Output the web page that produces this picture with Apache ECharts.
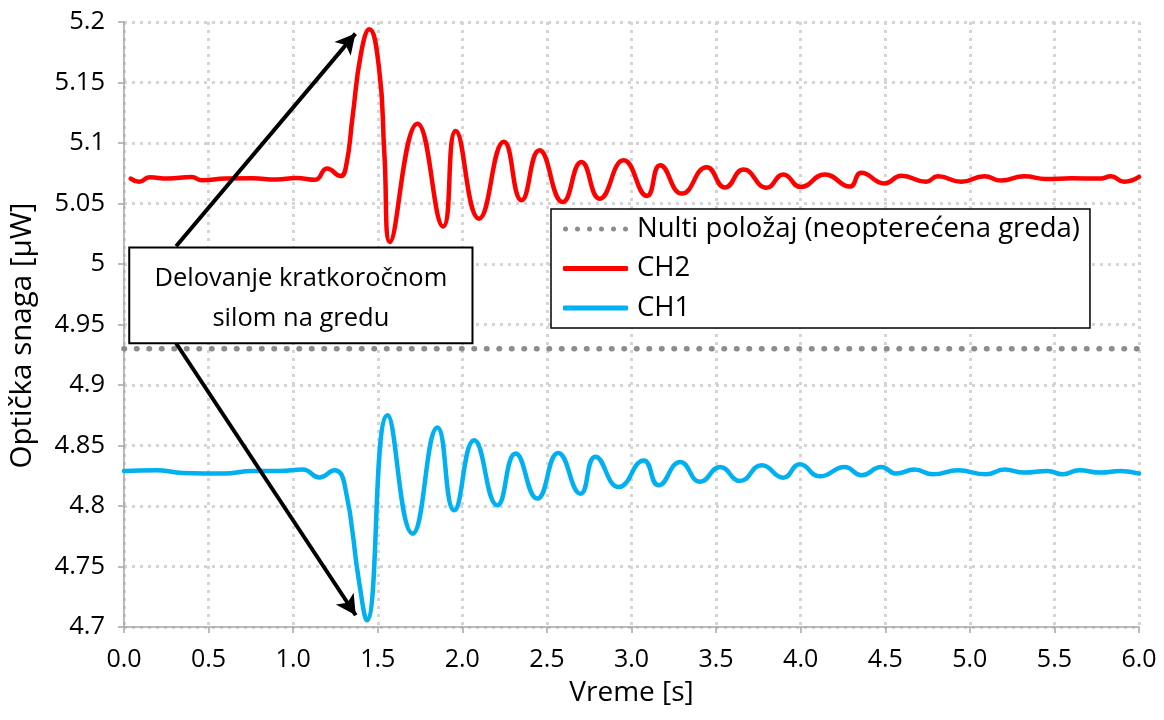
<!DOCTYPE html>
<html>
<head>
<meta charset="utf-8">
<script src="https://cdn.jsdelivr.net/npm/echarts@6/dist/echarts.min.js"></script>
<style>
html,body{margin:0;padding:0;background:#fff;}
#chart{width:1164px;height:720px;}
</style>
</head>
<body>
<div id="chart"></div>
<script>
// ---- data ----
const ch2Time = [0.04,0.09,0.15,0.26,0.40,0.46,0.60,0.76,0.90,1.02,1.13,1.20,1.28,1.313,1.351,1.401,1.45,1.509,1.539,1.572,1.735,1.887,1.961,2.099,2.246,2.350,2.456,2.594,2.704,2.812,2.954,3.091,3.170,3.298,3.445,3.553,3.662,3.799,3.897,4.001,4.143,4.290,4.359,4.496,4.595,4.742,4.811,4.949,5.086,5.185,5.322,5.45,5.60,5.774,5.833,5.912,6.0];
const ch2Values = [5.0706,5.0680,5.0716,5.0706,5.0718,5.0693,5.0706,5.0708,5.0698,5.0710,5.0696,5.0790,5.0727,5.0810,5.1215,5.1740,5.1940,5.1600,5.0915,5.0182,5.1160,5.0310,5.1100,5.0375,5.1010,5.0526,5.0940,5.0512,5.0843,5.0540,5.0857,5.0563,5.0816,5.0582,5.0800,5.0632,5.0780,5.0630,5.0740,5.0637,5.0740,5.0640,5.0754,5.0665,5.0730,5.0680,5.0725,5.0680,5.0725,5.0690,5.0725,5.0702,5.0708,5.0706,5.0725,5.0680,5.0720];

const ch1Time = [0.00,0.19,0.35,0.59,0.76,0.92,1.057,1.156,1.244,1.303,1.391,1.435,1.558,1.706,1.853,1.952,2.070,2.207,2.315,2.443,2.567,2.698,2.787,2.925,3.072,3.160,3.288,3.406,3.524,3.641,3.770,3.897,3.995,4.113,4.261,4.359,4.477,4.565,4.673,4.782,4.929,5.096,5.204,5.322,5.460,5.548,5.646,5.774,5.892,6.000];
const ch1Values = [4.8290,4.8295,4.8273,4.8268,4.8290,4.8290,4.8301,4.8235,4.8295,4.8185,4.7360,4.7055,4.8750,4.7772,4.8648,4.7964,4.8543,4.8006,4.8433,4.8061,4.8438,4.8102,4.8408,4.8157,4.8377,4.8171,4.8364,4.8200,4.8322,4.8207,4.8336,4.8234,4.8345,4.8245,4.8322,4.8254,4.8322,4.8268,4.8301,4.8262,4.8295,4.8262,4.8301,4.8276,4.8290,4.8262,4.8295,4.8276,4.8290,4.8268];

const nultiTime = [0, 6];
const nultiValue = [4.93, 4.93];

const seriesNames = ['Nulti položaj (neopterećena greda)', 'CH2', 'CH1'];
const xAxisTitle = 'Vreme [s]';
const yAxisTitle = 'Optička snaga [µW]';
const annotationText = 'Delovanje kratkoročnom\nsilom na gredu';

// annotation geometry in data coordinates [time, value]
const arrowUp = [[0.308, 5.0146], [1.368, 5.1904]];
const arrowDown = [[0.308, 4.9345], [1.370, 4.7097]];
const boxTopLeft = [0.031, 5.0137];
const boxBottomRight = [2.060, 4.9345];

const pairs = (xs, ys) => xs.map((x, i) => [x, ys[i]]);

// dotted legend icon: six round dots in a 65 x 5 box
function dotsIcon() {
  let d = '';
  for (let i = 0; i < 6; i++) {
    const cx = 2.5 + i * 12;
    d += 'M' + (cx - 2.5) + ',2.5 a2.5,2.5 0 1,0 5,0 a2.5,2.5 0 1,0 -5,0 ';
  }
  return 'path://' + d + 'M0,0 M65,5';
}

const FONT = 'Open Sans';
const chart = echarts.init(document.getElementById('chart'), null, {renderer: 'canvas'});

const axisCommon = {
  axisLine: {show: true, lineStyle: {color: '#a6a6a6', width: 1.5}},
  axisTick: {show: true, length: 6, lineStyle: {color: '#a6a6a6', width: 1.5}},
  splitLine: {show: true, lineStyle: {color: '#d4d4d4', width: 3, type: [3, 5]}},
  nameTextStyle: {fontFamily: FONT, fontSize: 28, color: '#000'},
};

chart.setOption({
  animation: false,
  backgroundColor: '#fff',
  textStyle: {fontFamily: FONT},
  grid: {left: 121, right: 25, top: 22, bottom: 93, containLabel: false},
  xAxis: Object.assign({}, axisCommon, {
    type: 'value', min: 0, max: 6, interval: 0.5,
    name: xAxisTitle, nameLocation: 'middle', nameGap: 52,
    axisLabel: {fontFamily: FONT, fontSize: 25, color: '#000', margin: 20,
      formatter: v => v.toFixed(1)}
  }),
  yAxis: Object.assign({}, axisCommon, {
    type: 'value', min: 4.7, max: 5.2, interval: 0.05,
    name: yAxisTitle, nameLocation: 'middle', nameGap: 86,
    nameTextStyle: {fontFamily: FONT, fontSize: 29.5, color: '#000', padding: [0, 22, 0, 0]},
    axisLabel: {fontFamily: FONT, fontSize: 25.5, color: '#000', margin: 19,
      formatter: v => String(parseFloat(v.toFixed(2)))}
  }),
  legend: {
    orient: 'vertical', left: 551, top: 209,
    data: [
      {name: seriesNames[0], icon: dotsIcon()},
      {name: seriesNames[1], icon: 'roundRect'},
      {name: seriesNames[2], icon: 'roundRect'}
    ],
    backgroundColor: '#fff', borderColor: '#000', borderWidth: 1.5,
    padding: [6, 10, 6, 12],
    itemWidth: 65, itemHeight: 5, itemGap: 11.5,
    textStyle: {fontFamily: FONT, fontSize: 27.5, color: '#000', padding: [0, 0, 0, 4]},
    z: 20
  },
  series: [
    {
      name: seriesNames[0], type: 'line', data: pairs(nultiTime, nultiValue),
      symbol: 'none', showSymbol: false, z: 3,
      lineStyle: {color: '#8c8c8c', width: 5.5, type: [0.5, 12], cap: 'round'},
      itemStyle: {color: '#8c8c8c'}
    },
    {
      name: seriesNames[1], type: 'line', data: pairs(ch2Time, ch2Values),
      symbol: 'none', showSymbol: false, smooth: 0.5, z: 4,
      lineStyle: {color: '#ff0000', width: 4.5, cap: 'round', join: 'round'},
      itemStyle: {color: '#ff0000'}
    },
    {
      name: seriesNames[2], type: 'line', data: pairs(ch1Time, ch1Values),
      symbol: 'none', showSymbol: false, smooth: 0.5, z: 4,
      lineStyle: {color: '#00b0f0', width: 4.5, cap: 'round', join: 'round'},
      itemStyle: {color: '#00b0f0'}
    },
    {
      name: 'arrows', type: 'line', data: [], z: 6,
      markLine: {
        silent: true, symbol: ['none', 'arrow'], symbolSize: [16, 20], z: 6,
        label: {show: false},
        lineStyle: {color: '#000', width: 4, type: 'solid'},
        emphasis: {disabled: true},
        data: [
          [{coord: arrowUp[0]}, {coord: arrowUp[1]}],
          [{coord: arrowDown[0]}, {coord: arrowDown[1]}]
        ]
      }
    }
  ]
});

const p1 = chart.convertToPixel({gridIndex: 0}, boxTopLeft);
const p2 = chart.convertToPixel({gridIndex: 0}, boxBottomRight);
chart.setOption({
  graphic: [{
    type: 'group', z: 100,
    children: [
      {type: 'rect', shape: {x: p1[0], y: p1[1], width: p2[0] - p1[0], height: p2[1] - p1[1]},
       style: {fill: '#fff', stroke: '#000', lineWidth: 2}, z: 100},
      {type: 'text', x: (p1[0] + p2[0]) / 2, y: (p1[1] + p2[1]) / 2 + 3, z: 101,
       style: {text: annotationText, font: '25.5px "Open Sans"', fill: '#000',
               align: 'center', verticalAlign: 'middle', lineHeight: 40}}
    ]
  }]
});
</script>
</body>
</html>
